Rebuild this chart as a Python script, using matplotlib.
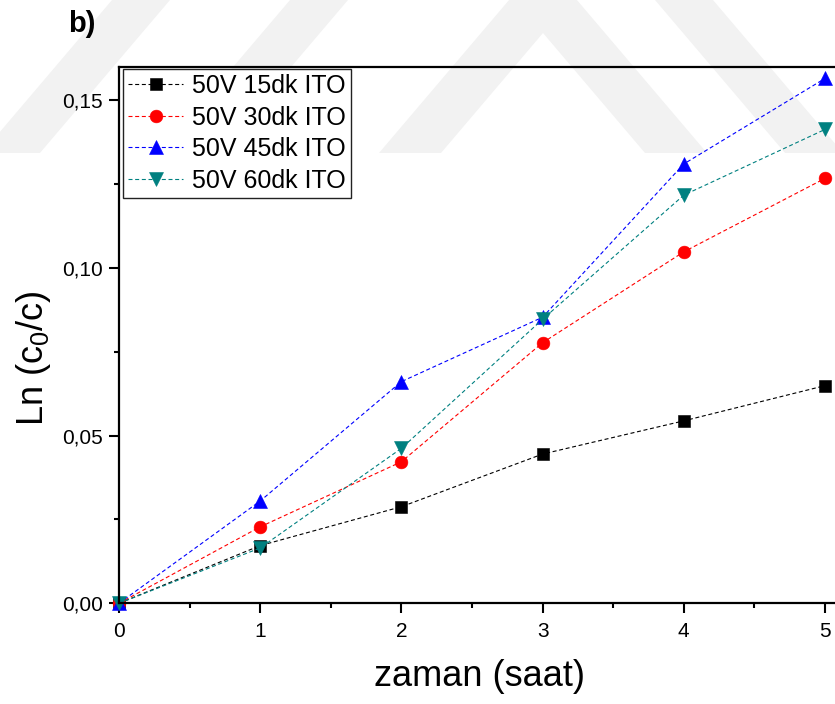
import matplotlib
matplotlib.use("Agg")
import matplotlib.pyplot as plt
from matplotlib.patches import Polygon
from matplotlib.transforms import Affine2D
from matplotlib.ticker import FixedLocator, MultipleLocator

plt.rcParams['font.family'] = ['Liberation Sans', 'DejaVu Sans']
plt.rcParams['mathtext.fontset'] = 'custom'
plt.rcParams['mathtext.rm'] = 'Liberation Sans'
plt.rcParams['mathtext.it'] = 'Liberation Sans:italic'

# Time (hours) and ln(c0/c) for each ITO electrode
time_h = [0, 1, 2, 3, 4, 5]
ln_15dk = [0.0, 0.0172, 0.0288, 0.0445, 0.0544, 0.0649]
ln_30dk = [0.0, 0.0228, 0.0422, 0.0777, 0.1048, 0.1267]
ln_45dk = [0.0, 0.0305, 0.0661, 0.0853, 0.1310, 0.1565]
ln_60dk = [0.0, 0.0165, 0.0462, 0.0847, 0.1217, 0.1413]

series_labels = ['50V 15dk ITO', '50V 30dk ITO', '50V 45dk ITO', '50V 60dk ITO']
series_colors = ['#000000', '#FF0000', '#0000FF', '#008080']
series_markers = ['s', 'o', '^', 'v']
series_sizes = [8.4, 9.2, 10.5, 10.5]

x_ticks = [0, 1, 2, 3, 4, 5]
x_tick_labels = ['0', '1', '2', '3', '4', '5']
y_ticks = [0.0, 0.05, 0.10, 0.15]
y_tick_labels = ['0,00', '0,05', '0,10', '0,15']

W, H = 835, 704
fig = plt.figure(figsize=(W / 100, H / 100), dpi=100)
fig.patch.set_facecolor('white')

# Faint background watermark (pixel coordinates, y measured downwards)
px = Affine2D().scale(1 / W, -1 / H).translate(0, 1) + fig.transFigure
slope, band_w, y_end = 0.85, 58, 153


def band(x_top, direction):
    dx = direction * slope * y_end
    return [(x_top, 0), (x_top + band_w, 0),
            (x_top + band_w + dx, y_end), (x_top + dx, y_end)]


wm_color = '#F2F2F2'
shapes = [band(112, -1), band(290, -1), band(655, 1)]
apex_x, apex_in, arm = 543, 33, 62
top_out = apex_in - arm / slope
shapes.append([(apex_x, top_out),
               (apex_x + slope * (y_end - top_out), y_end),
               (apex_x + slope * (y_end - apex_in), y_end),
               (apex_x, apex_in),
               (apex_x - slope * (y_end - apex_in), y_end),
               (apex_x - slope * (y_end - top_out), y_end)])
for verts in shapes:
    fig.add_artist(Polygon(verts, closed=True, transform=px,
                           facecolor=wm_color, edgecolor='none', zorder=-5))

x_max = 5.1
px_per_unit = 141.2
ax_left, ax_bottom = 119, 100.7
ax_w, ax_h = x_max * px_per_unit, 536.6
ax = fig.add_axes([ax_left / W, ax_bottom / H, ax_w / W, ax_h / H])
ax.patch.set_alpha(0)

series = [ln_15dk, ln_30dk, ln_45dk, ln_60dk]
for vals, lab, col, mk, ms in zip(series, series_labels, series_colors,
                                  series_markers, series_sizes):
    ax.plot(time_h, vals, linestyle=(0, (3.6, 2.4)), linewidth=0.8, color=col,
            marker=mk, markersize=ms, markerfacecolor=col,
            markeredgecolor=col, markeredgewidth=0.4, label=lab,
            clip_on=False)

ax.set_xlim(0, x_max)
ax.set_ylim(0, 0.16)

ax.xaxis.set_major_locator(FixedLocator(x_ticks))
ax.set_xticklabels(x_tick_labels)
ax.xaxis.set_minor_locator(MultipleLocator(0.5))
ax.yaxis.set_major_locator(FixedLocator(y_ticks))
ax.set_yticklabels(y_tick_labels)
ax.yaxis.set_minor_locator(MultipleLocator(0.025))

for side in ['left', 'bottom', 'top', 'right']:
    ax.spines[side].set_linewidth(1.6)

ax.tick_params(axis='both', which='major', direction='out', length=7.5,
               width=1.5, labelsize=15, pad=4, top=False, right=False)
ax.tick_params(axis='both', which='minor', direction='out', length=3.5,
               width=1.5, top=False, right=False)
ax.tick_params(axis='x', which='major', pad=6)

ax.set_xlabel('zaman (saat)', fontsize=26, labelpad=13)
ax.set_ylabel(r'Ln (c$_0$/c)', fontsize=26)
ax.yaxis.set_label_coords(-0.0917, 0.457)

leg = ax.legend(loc='upper left', bbox_to_anchor=(4 / ax_w, 1 - 2.5 / ax_h),
                borderaxespad=0, fontsize=18, handlelength=2.2,
                handletextpad=0.37, borderpad=0.2, labelspacing=0.3,
                frameon=True, fancybox=False, edgecolor='#222222',
                framealpha=1)
leg.get_frame().set_linewidth(1.0)

fig.text(68 / W, 1 - 32 / H, 'b)', fontsize=21, fontweight='bold',
         ha='left', va='baseline')

fig.savefig('out.png', dpi=100)
